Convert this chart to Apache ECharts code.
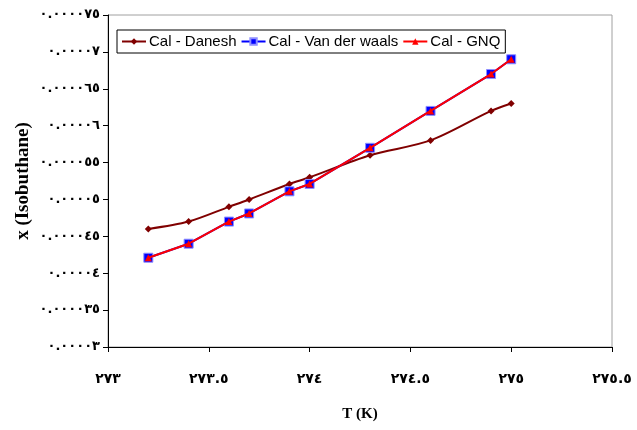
<!DOCTYPE html>
<html>
<head>
<meta charset="utf-8">
<script src="https://cdn.jsdelivr.net/npm/echarts@6/dist/echarts.min.js"></script>
<style>
  html, body { margin: 0; padding: 0; background: #fff; }
  #chart { width: 637px; height: 430px; }
</style>
</head>
<body>
<div id="chart"></div>
<script>
// temperatures (K)
const temps = [273.2, 273.4, 273.6, 273.7, 273.9, 274.0, 274.3, 274.6, 274.9, 275.0]
// mole fraction of isobutane
const danesh = [0.0000460, 0.0000470, 0.0000490, 0.0000500, 0.0000521, 0.0000530, 0.0000560, 0.0000580, 0.0000620, 0.0000630]
const vanDerWaals = [0.0000421, 0.0000440, 0.0000470, 0.0000481, 0.0000511, 0.0000521, 0.0000570, 0.0000620, 0.0000670, 0.0000690]
const gnq = [0.0000421, 0.0000440, 0.0000470, 0.0000481, 0.0000511, 0.0000521, 0.0000570, 0.0000620, 0.0000670, 0.0000690]

const seriesNames = ['Cal - Danesh', 'Cal - Van der waals', 'Cal - GNQ']

// tick labels are written with Arabic-Indic digits
const arDigits = '٠١٢٣٤٥٦٧٨٩'
function toArabic(v) {
  const s = String(Number(v.toFixed(7)))
  return s.replace(/[0-9]/g, d => arDigits[+d])
}

function pairs(ys) {
  return temps.map((t, i) => [t, ys[i]])
}

const chart = echarts.init(document.getElementById('chart'), null, { renderer: 'canvas' })

const labelFont = { color: '#000', fontFamily: 'DejaVu Sans', fontWeight: 'bold' }

chart.setOption({
  backgroundColor: '#fff',
  animation: false,
  grid: {
    left: 108, right: 25, top: 15, bottom: 83,
    show: true, borderColor: '#a0a0a0', borderWidth: 1,
  },
  legend: {
    data: seriesNames,
    left: 117, top: 30,
    orient: 'horizontal',
    borderColor: '#000', borderWidth: 1,
    padding: [4, 5, 4, 4],
    itemGap: 4, itemWidth: 24, itemHeight: 8,
    textStyle: { color: '#000', fontFamily: 'Liberation Sans', fontSize: 15, padding: [0, 0, 0, -2] },
  },
  xAxis: {
    type: 'value', min: 273, max: 275.5, interval: 0.5,
    name: 'T (K)', nameLocation: 'middle', nameGap: 60, nameMoveOverlap: false,
    nameTextStyle: { color: '#000', fontFamily: 'Liberation Serif', fontWeight: 'bold', fontSize: 15 },
    axisLine: { onZero: false, lineStyle: { color: '#000', width: 1 } },
    axisTick: { show: true, inside: false, length: 5, lineStyle: { color: '#000' } },
    axisLabel: Object.assign({ margin: 25, fontSize: 14, formatter: toArabic }, labelFont),
    splitLine: { show: false },
  },
  yAxis: {
    type: 'value', min: 0.00003, max: 0.000075, interval: 0.000005,
    name: 'x (Isobuthane)', nameLocation: 'middle', nameGap: 75, nameRotate: 90, nameMoveOverlap: false,
    nameTextStyle: { color: '#000', fontFamily: 'Liberation Serif', fontWeight: 'bold', fontSize: 19 },
    axisLine: { show: true, onZero: false, lineStyle: { color: '#000', width: 1 } },
    axisTick: { show: true, inside: false, length: 5, lineStyle: { color: '#000' } },
    axisLabel: Object.assign({ margin: 8, fontSize: 13, formatter: toArabic }, labelFont),
    splitLine: { show: false },
  },
  series: [
    {
      name: seriesNames[0], type: 'line', data: pairs(danesh),
      smooth: 0.3, symbol: 'diamond', symbolSize: 7,
      itemStyle: { color: '#800000' },
      lineStyle: { color: '#800000', width: 2 },
      z: 2,
    },
    {
      name: seriesNames[1], type: 'line', data: pairs(vanDerWaals),
      symbol: 'rect', symbolSize: 9,
      itemStyle: { color: '#0000ff', borderColor: '#8f8fff', borderWidth: 1 },
      lineStyle: { color: '#0000ff', width: 2 },
      z: 3,
    },
    {
      name: seriesNames[2], type: 'line', data: pairs(gnq),
      symbol: 'triangle', symbolSize: 7,
      itemStyle: { color: '#ff0000' },
      lineStyle: { color: '#ff0000', width: 2 },
      z: 4,
    },
  ],
})
</script>
</body>
</html>
